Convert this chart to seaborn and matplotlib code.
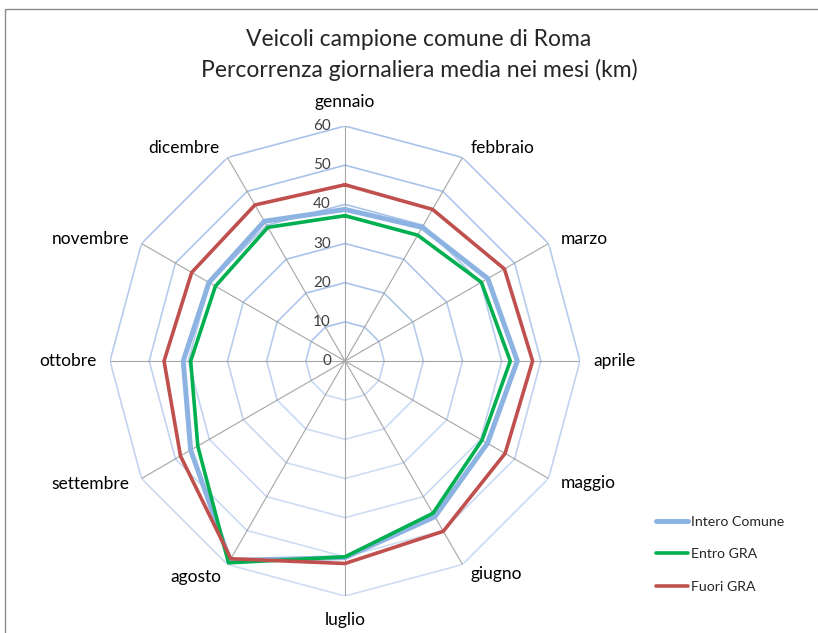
import numpy as np
import pandas as pd
import seaborn as sns
import matplotlib.pyplot as plt
from matplotlib.lines import Line2D
from matplotlib.patches import Rectangle

months = ['gennaio', 'febbraio', 'marzo', 'aprile', 'maggio', 'giugno',
          'luglio', 'agosto', 'settembre', 'ottobre', 'novembre', 'dicembre']
intero_comune = [38.7, 39.4, 42.1, 44.0, 42.0, 45.9, 50.2, 58.8, 45.5, 41.3, 40.1, 41.2]
entro_gra = [37.1, 37.1, 40.2, 42.2, 40.4, 44.9, 50.0, 59.5, 43.4, 39.4, 38.2, 39.4]
fuori_gra = [45.0, 44.7, 47.0, 47.9, 47.2, 50.2, 51.7, 58.3, 48.5, 46.2, 45.2, 46.0]
r_ticks = [0, 10, 20, 30, 40, 50, 60]

series = {
    'Intero Comune': (intero_comune, '#8db3e2', 3.6),
    'Entro GRA': (entro_gra, '#00b050', 2.6),
    'Fuori GRA': (fuori_gra, '#c0504d', 2.6),
}

sns.set_style('white')
plt.rcParams['font.family'] = ['Lato', 'DejaVu Sans']

fig = plt.figure(figsize=(8.18, 6.33), dpi=100)
ax = fig.add_axes([110 / 818, 37 / 633, 470 / 818, 470 / 633], projection='polar')
ax.set_theta_zero_location('N')
ax.set_theta_direction(-1)

angles = np.linspace(0, 2 * np.pi, len(months), endpoint=False)
closed = np.append(angles, angles[0] + 2 * np.pi)

# polygon grid, paler towards the bottom
for r in r_ticks[1:]:
    for i in range(len(months)):
        a0, a1 = closed[i], closed[i + 1]
        mid = (a0 + a1) / 2
        alpha = 0.55 + 0.45 * (1 + np.cos(mid)) / 2
        ax.plot([a0, a1], [r, r], color='#a9c2ea', lw=1.2, alpha=alpha, zorder=1)
for a in angles:
    ax.plot([a, a], [0, 60], color='#a6a6a6', lw=0.8, zorder=1)

for name, (vals, col, lw) in series.items():
    df = pd.DataFrame({'theta': closed, 'value': vals + vals[:1]})
    sns.lineplot(data=df, x='theta', y='value', sort=False, estimator=None,
                 color=col, linewidth=lw, ax=ax, zorder=3)

ax.set_ylim(0, 60)
ax.set_xticks([])
ax.set_yticks([])
ax.grid(False)
ax.spines['polar'].set_visible(False)
ax.set_xlabel('')
ax.set_ylabel('')
ax.patch.set_alpha(0)

for r in r_ticks:
    ax.annotate(str(r), xy=(0, r), xytext=(-14, 0), textcoords='offset pixels',
                ha='right', va='center', fontsize=11, color='#404040')

offsets = [(0, 24, 'center'), (8, 9, 'left'), (12, 5, 'left'), (13, 0, 'left'),
           (12, -5, 'left'), (8, -9, 'left'), (0, -24, 'center'), (-6, -12, 'right'),
           (-12, -5, 'right'), (-13, 0, 'right'), (-12, 5, 'right'), (-8, 9, 'right')]
for a, m, (dx, dy, ha) in zip(angles, months, offsets):
    ax.annotate(m, xy=(a, 60), xytext=(dx, dy), textcoords='offset pixels',
                ha=ha, va='center', fontsize=12.5, color='#000000')

fig.text(419 / 818, 1 - 40 / 633, 'Veicoli campione comune di Roma',
         ha='center', va='center', fontsize=16.5)
fig.text(419 / 818, 1 - 70 / 633, 'Percorrenza giornaliera media nei mesi (km)',
         ha='center', va='center', fontsize=16.5)

handles = [Line2D([], [], color=c, lw=lw) for (_, c, lw) in series.values()]
fig.legend(handles, list(series.keys()), loc='upper left',
           bbox_to_anchor=(643 / 818, 1 - 503 / 633), frameon=False,
           fontsize=10.2, handlelength=2.3, handletextpad=0.2, labelspacing=1.45)

fig.patches.append(Rectangle((5 / 818, -0.5), 2, 1.5 - 9 / 633, transform=fig.transFigure,
                             fill=False, edgecolor='#8c8c8c', lw=1.0))

fig.savefig('out.png', dpi=100)
